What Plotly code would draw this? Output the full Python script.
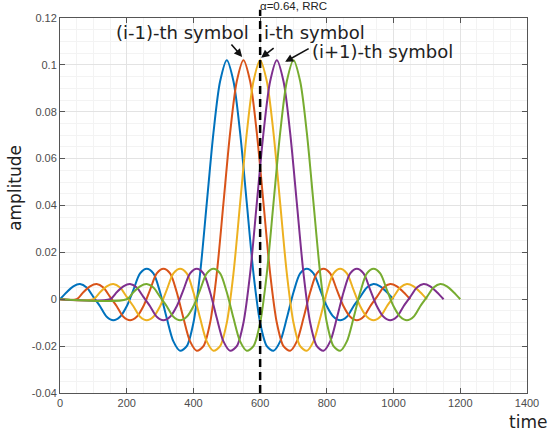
import plotly.graph_objects as go

# pulse samples (time offset from pulse start, amplitude)
pulse_t = [0, 20, 40, 60, 80, 100, 120, 140, 160, 180, 200, 220, 240, 260, 280, 300, 320, 340,
           360, 380, 400, 420, 440, 460, 480, 500, 520, 540, 560, 580, 600, 620, 640, 660, 680,
           700, 720, 740, 760, 780, 800, 820, 840, 860, 880, 900, 920, 940, 960, 980, 1000]
pulse_amp = [0.0, 0.003, 0.0055, 0.0065, 0.005, 0.001, -0.003, -0.0075, -0.009, -0.0075, -0.003,
             0.004, 0.011, 0.013, 0.011, 0.003, -0.008, -0.018, -0.022, -0.020, -0.010, 0.011,
             0.041, 0.071, 0.093, 0.102, 0.093, 0.071, 0.041, 0.011, -0.010, -0.020, -0.022,
             -0.018, -0.008, 0.003, 0.011, 0.013, 0.011, 0.004, -0.003, -0.0075, -0.009, -0.0075,
             -0.003, 0.001, 0.005, 0.0065, 0.0055, 0.003, 0.0]

symbol_start = [0, 50, 100, 150, 200]
colors = ["#0072BD", "#D95319", "#EDB120", "#7E2F8E", "#77AC30"]

x_ticks = [0, 200, 400, 600, 800, 1000, 1200, 1400]
y_ticks = [-0.04, -0.02, 0, 0.02, 0.04, 0.06, 0.08, 0.1, 0.12]
y_ticklabels = ["-0.04", "-0.02", "0", "0.02", "0.04", "0.06", "0.08", "0.1", "0.12"]

fig = go.Figure()

for s, c in zip(symbol_start, colors):
    xs = [s + t for t in pulse_t]
    ys = list(pulse_amp)
    if s > 0:
        # zero-padded before the pulse starts
        xs = [0] + xs
        ys = [0.0] + ys
    fig.add_trace(go.Scatter(x=xs, y=ys, mode="lines",
                             line=dict(color=c, width=2, shape="spline", smoothing=0.8),
                             showlegend=False, hoverinfo="skip"))

# dashed marker at the i-th symbol
fig.add_shape(type="line", xref="x", yref="paper", x0=600, x1=600, y0=0, y1=1.022,
              line=dict(color="black", width=2.5, dash="8px,5px"))

ann_font = dict(family="DejaVu Sans, sans-serif", size=18, color="#222222")
arrow = dict(showarrow=True, arrowhead=2, arrowsize=1, arrowwidth=1.6, arrowcolor="#111111", text="")

# arrows (tail offsets in pixels from the tip)
fig.add_annotation(x=546, y=0.1034, ax=-12, ay=-14, **arrow)
fig.add_annotation(x=603, y=0.1030, ax=14, ay=-11, **arrow)
fig.add_annotation(x=675, y=0.1013, ax=25, ay=-14, **arrow)

fig.add_annotation(x=366, y=0.1137, text="(i-1)-th symbol", showarrow=False, font=ann_font)
fig.add_annotation(x=763, y=0.1137, text="i-th symbol", showarrow=False, font=ann_font)
fig.add_annotation(x=967, y=0.1056, text="(i+1)-th symbol", showarrow=False, font=ann_font)

fig.add_annotation(x=0.5, y=1.012, xref="paper", yref="paper", yanchor="bottom",
                   text="α=0.64, RRC", showarrow=False, borderpad=0,
                   font=dict(family="Liberation Sans, Arial, sans-serif", size=11.5, color="#222222"))
fig.add_annotation(x=1.045, y=-0.078, xref="paper", yref="paper", xanchor="right", yanchor="middle",
                   text="time", showarrow=False, borderpad=0,
                   font=dict(family="DejaVu Sans, sans-serif", size=17, color="#222222"))
fig.add_annotation(x=-0.0964, y=0.547, xref="paper", yref="paper", xanchor="center",
                   yanchor="middle", textangle=-90, text="amplitude", showarrow=False,
                   font=dict(family="DejaVu Sans, sans-serif", size=17, color="#222222"))

axis_common = dict(showline=True, linecolor="#555555", linewidth=1, mirror="ticks",
                   ticks="inside", ticklen=5, tickcolor="#555555", zeroline=False,
                   showgrid=True, gridcolor="#e3e3e3", gridwidth=1, automargin=False,
                   tickfont=dict(family="Liberation Sans, Arial, sans-serif", size=11, color="#4d4d4d"))

fig.update_xaxes(range=[0, 1400], tickvals=x_ticks, **axis_common,
                 minor=dict(dtick=50, showgrid=True, gridcolor="#f3f3f3", gridwidth=1, ticks=""))
fig.update_yaxes(range=[-0.04, 0.12], tickvals=y_ticks, ticktext=y_ticklabels, **axis_common,
                 minor=dict(dtick=0.005, showgrid=True, gridcolor="#f3f3f3", gridwidth=1, ticks=""))

fig.update_layout(width=550, height=434, plot_bgcolor="white", paper_bgcolor="white",
                  margin=dict(l=60, r=23, t=18, b=41), showlegend=False)

# drop the page's default body margin so the figure sits at the window corner
fig.write_html("out.html", config={"displayModeBar": False},
               post_script="document.body.style.margin='0';")
